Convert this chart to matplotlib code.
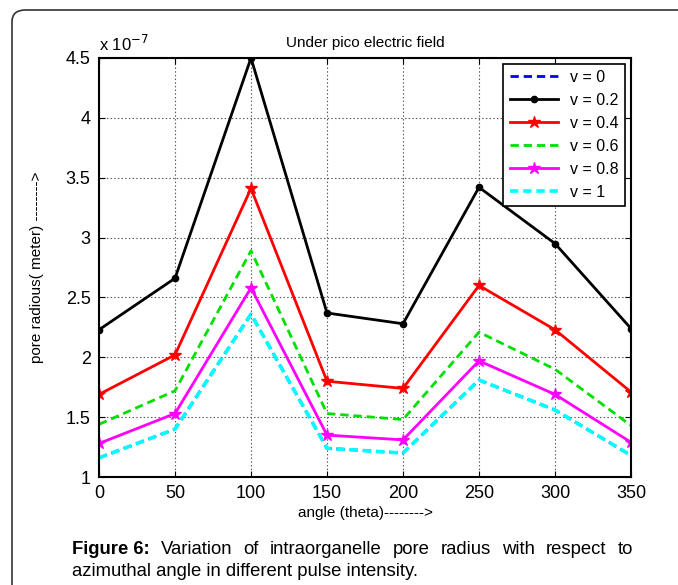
import matplotlib
matplotlib.use('Agg')
import matplotlib.pyplot as plt
from matplotlib.patches import FancyBboxPatch

plt.rcParams['font.family'] = ['Liberation Sans', 'DejaVu Sans']
plt.rcParams['lines.scale_dashes'] = False

# angle (theta) and pore radius values (in units of 1e-7 m)
angle = [0, 50, 100, 150, 200, 250, 300, 350]
v0 = [1.16, 1.40, 2.36, 1.24, 1.20, 1.81, 1.56, 1.18]
v02 = [2.23, 2.66, 4.50, 2.37, 2.28, 3.42, 2.95, 2.24]
v04 = [1.69, 2.02, 3.41, 1.80, 1.74, 2.60, 2.23, 1.71]
v06 = [1.44, 1.72, 2.89, 1.53, 1.48, 2.21, 1.90, 1.43]
v08 = [1.28, 1.53, 2.58, 1.35, 1.31, 1.97, 1.69, 1.29]
v1 = [1.16, 1.40, 2.36, 1.24, 1.20, 1.81, 1.56, 1.18]

dash = (0, (6, 3.5))

fig = plt.figure(figsize=(6.78, 5.85), dpi=100)

# rounded frame around the figure (runs off right and bottom)
frame = FancyBboxPatch((12/678, -0.05), 1.1, 0.05 + 1 - 10/585,
                       boxstyle='round,pad=0,rounding_size=0.02',
                       transform=fig.transFigure, fill=False,
                       edgecolor='#333333', linewidth=1.2, clip_on=False)
fig.patches.append(frame)

ax = fig.add_axes([99/678, 1 - 477/585, 532/678, 419/585])

ax.plot(angle, v0, linestyle=dash, color='blue', linewidth=2, label='v = 0')
ax.plot(angle, v02, '-', color='black', linewidth=2, marker='.', markersize=9, label='v = 0.2')
ax.plot(angle, v04, '-', color='red', linewidth=2, marker='*', markersize=9, label='v = 0.4')
ax.plot(angle, v06, linestyle=dash, color='#00e000', linewidth=2, label='v = 0.6')
ax.plot(angle, v08, '-', color='magenta', linewidth=2, marker='*', markersize=9, label='v = 0.8')
ax.plot(angle, v1, linestyle=dash, color='cyan', linewidth=2.6, label='v = 1')

ax.set_xlim(0, 350)
ax.set_ylim(1, 4.5)
ax.set_xticks(angle)
ax.set_yticks([1, 1.5, 2, 2.5, 3, 3.5, 4, 4.5])
ax.set_yticklabels(['1', '1.5', '2', '2.5', '3', '3.5', '4', '4.5'])
ax.tick_params(direction='in', top=True, right=True, labelsize=13, length=4, pad=6)
ax.grid(True, linestyle=':', color='#555555', linewidth=0.8)
for s in ax.spines.values():
    s.set_linewidth(1.5)

ax.set_title('Under pico electric field', fontsize=11, pad=8)
ax.text(0, 1.01, r'x 10$^{-7}$', transform=ax.transAxes, fontsize=12, va='bottom', ha='left')
ax.set_xlabel('angle (theta)-------->', fontsize=11, labelpad=3)
ax.set_ylabel('pore radious( meter) -------->', fontsize=11, labelpad=16)

leg = ax.legend(loc='upper right', fontsize=11.5, fancybox=False, framealpha=1,
                edgecolor='black', borderaxespad=0.35, handlelength=3, labelspacing=0.5)
leg.get_frame().set_linewidth(1.2)

# caption with justified first line
words = ['Variation', 'of', 'intraorganelle', 'pore', 'radius', 'with', 'respect', 'to']
x0, x1 = 72/678, 633/678
ycap1 = 1 - 550/585
fig.canvas.draw()
r = fig.canvas.get_renderer()
bold = fig.text(x0, ycap1, 'Figure 6:', fontsize=13.3, fontweight='bold', va='center')
items = [bold] + [fig.text(0, ycap1, w, fontsize=13.3, va='center') for w in words]
widths = [t.get_window_extent(r).width / (6.78 * 100) for t in items]
gap = (x1 - x0 - sum(widths)) / (len(items) - 1)
xpos = x0
for t, w in zip(items, widths):
    t.set_x(xpos)
    xpos += w + gap
fig.text(x0, 1 - 571/585, 'azimuthal angle in different pulse intensity.', fontsize=13.3, va='center')

fig.savefig('out.png', dpi=100)
